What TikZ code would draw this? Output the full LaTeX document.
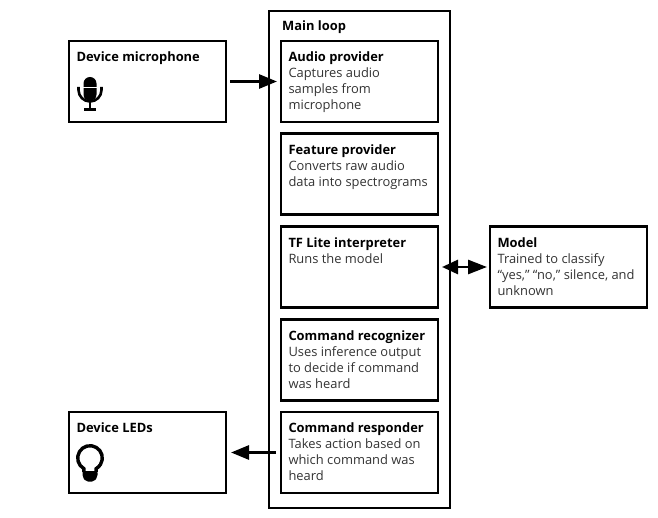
\documentclass[tikz,border=0pt]{standalone}
\usepackage{fontspec}
\setmainfont{Open Sans}
\usetikzlibrary{positioning,arrows.meta}
\tikzset{
        blockbox/.style={draw,line width=2.7pt,outer sep=0pt,inner sep=0pt,minimum width=157pt,minimum height=81pt},
        flowline/.style={line width=2.8pt},
        titlefont/.style={font=\fontsize{12.9pt}{16pt}\selectfont\bfseries}
}
\newcommand{\blocktext}[3][59pt]{\parbox[t][#1][t]{142pt}{\fontsize{12.9pt}{16pt}\selectfont\textbf{#2}\\\textcolor{black!80}{#3}}}
\begin{document}
\begin{tikzpicture}[x=1pt,y=1pt]
        \useasboundingbox (0,0) rectangle (658,-518);
        \node[blockbox,minimum width=181pt,minimum height=497pt] (main) at (359.5,-259.5) {};
        \node[anchor=north west,inner sep=0pt,titlefont] (mainlabel) at (282,-20.5) {Main loop};
        \node[blockbox] (audio) at (359.5,-81.5) {\blocktext{Audio provider}{Captures audio\\samples from\\microphone}};
        \node[blockbox,below=11.75pt of audio] (feature) {\blocktext{Feature provider}{Converts raw audio\\data into spectrograms}};
        \node[blockbox,below=11.75pt of feature] (interp) {\blocktext{TF Lite interpreter}{Runs the model}};
        \node[blockbox,below=11.75pt of interp] (recog) {\blocktext{Command recognizer}{Uses inference output\\to decide if command\\was heard}};
        \node[blockbox,below=11.75pt of recog] (respond) {\blocktext{Command responder}{Takes action based on\\which command was\\heard}};
        \node[blockbox,left=55pt of audio] (mic) {\blocktext{Device microphone}{}};
        \node[blockbox,left=55pt of respond] (leds) {\blocktext{Device LEDs}{}};
        \node[blockbox,right=52pt of interp] (model) {\blocktext{Model}{Trained to classify\\“yes,” “no,” silence, and\\unknown}};
        \draw[flowline,-{Triangle[length=18pt,width=14pt]},shorten <=4pt,shorten >=4pt] (mic) -- (audio);
        \draw[flowline,-{Triangle[length=18pt,width=14pt]},shorten <=5pt,shorten >=5pt] (respond) -- (leds);
        \draw[flowline,{Triangle[length=16pt,width=14pt]}-{Triangle[length=19pt,width=14pt]},shorten <=4pt,shorten >=3pt] (interp) -- (model);
        \fill[rounded corners=6.5pt] (83.5,-77) rectangle (96.5,-101);
        \draw[white,line width=1pt] (83,-88) -- (97,-88);
        \draw[line width=2.6pt] (78.5,-87) -- (78.5,-90) arc[start angle=180,end angle=360,radius=11.5] -- (101.5,-87);
        \draw[line width=2.6pt] (90,-102) -- (90,-109);
        \draw[line width=2.6pt] (84,-109.5) -- (96,-109.5);
        \draw[line width=3.4pt] (83.85,-472) -- (83.85,-468.65) arc[start angle=240,end angle=-60,radius=12.3] -- (96.15,-472);
        \fill[rounded corners=2pt] (82.5,-471) -- (97.5,-471) -- (97.5,-477) -- (94,-481.5) -- (86,-481.5) -- (82.5,-477) -- cycle;
\end{tikzpicture}
\end{document}
